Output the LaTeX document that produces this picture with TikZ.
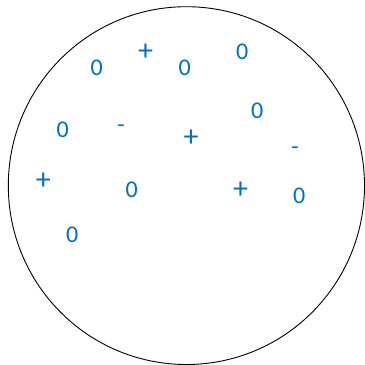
\documentclass[tikz,border=0pt]{standalone}
\usepackage{fontspec}
\setmainfont{Carlito}
\definecolor{sblue}{HTML}{0070C0}
\begin{document}
\begin{tikzpicture}[x=1pt,y=-1pt,
  lbl/.style={text=sblue,font=\fontsize{24}{24}\selectfont,inner sep=0pt,anchor=base},
  pls/.style={lbl,font=\fontsize{30}{30}\selectfont}]
\useasboundingbox (0,0) rectangle (365,365);
\draw[line width=0.9pt] (186.4,185.6) ellipse [x radius=178.1, y radius=178.9];
\node[lbl] (a1) at (96.7,75.9) {0};
\node[pls] (a2) at (145.7,60.7) {+};
\node[lbl] (a3) at (184.7,75.9) {0};
\node[lbl] (a4) at (242.3,59.9) {0};
\node[lbl] (a5) at (257.3,118.6) {0};
\node[lbl] (a6) at (62.7,137.6) {0};
\node[lbl] (a7) at (121,132.5) {-};
\node[pls] (a8) at (191,146.7) {+};
\node[lbl] (a9) at (295,154.8) {-};
\node[pls] (a10) at (43.3,189) {+};
\node[lbl] (a11) at (131.7,197.6) {0};
\node[pls] (a12) at (240.7,198) {+};
\node[lbl] (a13) at (299.3,203.6) {0};
\node[lbl] (a14) at (72.3,242.6) {0};
\end{tikzpicture}
\end{document}
